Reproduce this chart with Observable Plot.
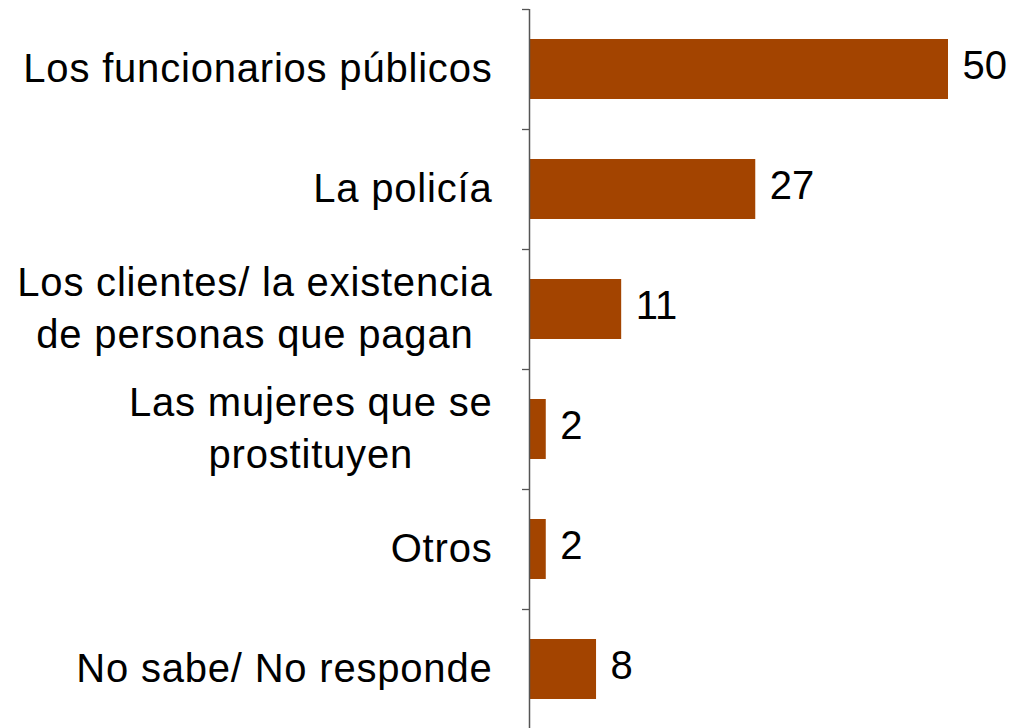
<!DOCTYPE html>
<html>
<head>
<meta charset="utf-8">
<script src="https://cdn.jsdelivr.net/npm/d3@7"></script>
<script src="https://cdn.jsdelivr.net/npm/@observablehq/plot@0.6"></script>
<style>
  html, body { margin: 0; padding: 0; background: #fff; }
  #chart svg { display: block; }
</style>
</head>
<body>
<div id="chart"></div>
<script>
const categories = [
  "Los funcionarios públicos",
  "La policía",
  "Los clientes/ la existencia\nde personas que pagan",
  "Las mujeres que se\nprostituyen",
  "Otros",
  "No sabe/ No responde"
];
const values = [50, 27, 11, 2, 2, 8];

const data = categories.map((c, i) => ({category: c, value: values[i]}));

const W = 1012, H = 728, MT = 9, MB = -1, ML = 529, MR = 64;
const step = (H - MT - MB) / categories.length;
const font = "'Liberation Sans', Arial, sans-serif";

const chart = Plot.plot({
  width: W,
  height: H,
  marginTop: MT,
  marginBottom: MB,
  marginLeft: ML,
  marginRight: MR,
  style: {fontFamily: font, background: "#fff"},
  x: {domain: [0, 50], axis: null},
  y: {domain: categories, padding: 0, axis: null, label: null},
  marks: [
    Plot.barX(data, {
      x: "value", y: "category", fill: "#A34400",
      insetTop: step * 0.25, insetBottom: step * 0.25
    }),
    Plot.axisY({
      tickSize: 7, tickFormat: () => "", label: null, dy: -step / 2, stroke: "#555", strokeWidth: 1.3
    }),
    Plot.ruleX([0], {stroke: "#555", strokeWidth: 1.5}),
    Plot.text(data, {
      x: "value", y: "category", text: d => String(d.value),
      dx: 14, dy: -3, textAnchor: "start", fontSize: 40, fill: "#000"
    }),
    Plot.text(data, {
      x: () => 0, y: "category", text: "category",
      dx: -37, dy: -4, textAnchor: "end", fontSize: 40, lineHeight: 1.3, fill: "#000",
      className: "ylabels"
    })
  ]
});

document.getElementById("chart").appendChild(chart);

// Center multi-line labels within their own block, keeping the block right-aligned
chart.querySelectorAll(".ylabels text").forEach(t => {
  t.setAttribute("letter-spacing", "0.8");
});
chart.querySelectorAll(".ylabels text").forEach(t => {
  const spans = t.querySelectorAll("tspan");
  if (spans.length > 1) {
    let w = 0;
    spans.forEach(s => { w = Math.max(w, s.getComputedTextLength()); });
    t.setAttribute("text-anchor", "middle");
    const tr = t.getAttribute("transform") || "";
    t.setAttribute("transform", tr + ` translate(${-w / 2},0)`);
  }
});
</script>
</body>
</html>
